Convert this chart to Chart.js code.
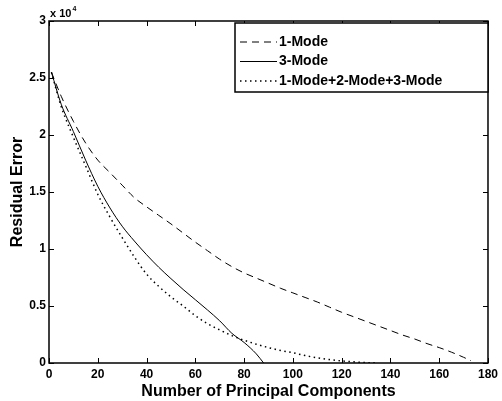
<!DOCTYPE html>
<html>
<head>
<meta charset="utf-8">
<script src="https://cdn.jsdelivr.net/npm/chart.js@4/dist/chart.umd.min.js"></script>
<style>
    body { margin: 0; background: #fff; }
    #chart { display: block; }
</style>
</head>
<body>
<canvas id="chart" width="502" height="401"></canvas>
<script>
// residual error in units of 10^4
const pcs1 = [1, 5, 10, 15, 20, 25, 30, 35, 40, 45, 50, 55, 60, 65, 70, 75, 80, 85, 90, 95, 100, 105, 110, 115, 120, 125, 130, 135, 140, 145, 150, 155, 160, 165, 170, 173];
const oneMode = [2.55, 2.34, 2.12, 1.93, 1.78, 1.67, 1.56, 1.45, 1.37, 1.295, 1.22, 1.14, 1.06, 0.985, 0.91, 0.845, 0.79, 0.745, 0.70, 0.655, 0.615, 0.575, 0.535, 0.49, 0.445, 0.405, 0.365, 0.325, 0.285, 0.245, 0.21, 0.17, 0.135, 0.095, 0.05, 0.02];

const pcs3 = [1, 5, 10, 15, 20, 25, 30, 35, 40, 45, 50, 55, 60, 65, 70, 75, 80, 85, 88];
const threeMode = [2.55, 2.27, 2.03, 1.78, 1.55, 1.36, 1.20, 1.07, 0.95, 0.84, 0.74, 0.645, 0.555, 0.465, 0.37, 0.26, 0.18, 0.08, 0.0];

const pcsAll = [1, 5, 10, 15, 20, 25, 30, 35, 40, 45, 50, 55, 60, 65, 70, 75, 80, 85, 90, 95, 100, 105, 110, 115, 120, 125, 130, 135];
const allModes = [2.55, 2.25, 1.98, 1.73, 1.48, 1.28, 1.10, 0.93, 0.78, 0.672, 0.58, 0.50, 0.415, 0.345, 0.29, 0.24, 0.20, 0.165, 0.135, 0.11, 0.09, 0.065, 0.045, 0.03, 0.018, 0.01, 0.004, 0];

const seriesNames = ["1-Mode", "3-Mode", "1-Mode+2-Mode+3-Mode"];

const FONT = "'Liberation Sans', Arial, sans-serif";

function toPoints(xs, ys) {
    return xs.map((x, i) => ({ x: x, y: ys[i] }));
}

// box + inward ticks, MATLAB style
const framePlugin = {
    id: "frame",
    afterDraw(chart) {
        const ctx = chart.ctx;
        const a = chart.chartArea;
        const xs = chart.scales.x;
        const ys = chart.scales.y;
        ctx.save();
        ctx.strokeStyle = "#000";
        ctx.lineWidth = 1.5;
        ctx.strokeRect(a.left, a.top, a.right - a.left, a.bottom - a.top);
        ctx.lineWidth = 1;
        ctx.beginPath();
        xs.ticks.forEach((t) => {
            const px = Math.round(xs.getPixelForValue(t.value)) + 0.5;
            ctx.moveTo(px, a.bottom);
            ctx.lineTo(px, a.bottom - 5);
            ctx.moveTo(px, a.top);
            ctx.lineTo(px, a.top + 5);
        });
        ys.ticks.forEach((t) => {
            const py = Math.round(ys.getPixelForValue(t.value)) + 0.5;
            ctx.moveTo(a.left, py);
            ctx.lineTo(a.left + 5, py);
            ctx.moveTo(a.right, py);
            ctx.lineTo(a.right - 5, py);
        });
        ctx.stroke();

        // exponent label
        ctx.fillStyle = "#000";
        ctx.font = "bold 11px " + FONT;
        ctx.textBaseline = "alphabetic";
        ctx.textAlign = "left";
        ctx.fillText("x 10", a.left + 1, a.top - 4);
        const w = ctx.measureText("x 10").width;
        ctx.font = "bold 7px " + FONT;
        ctx.fillText("4", a.left + 1 + w + 1, a.top - 10);
        ctx.restore();
    },
};

// legend box inside the plot
const legendBoxPlugin = {
    id: "legendBox",
    afterDraw(chart) {
        const ctx = chart.ctx;
        const left = 235, top = 23, right = 488, bottom = 92;
        ctx.save();
        ctx.fillStyle = "#fff";
        ctx.fillRect(left, top, right - left, bottom - top);
        ctx.strokeStyle = "#000";
        ctx.lineWidth = 1.5;
        ctx.strokeRect(left, top, right - left, bottom - top);
        ctx.font = "bold 14px " + FONT;
        ctx.textBaseline = "middle";
        ctx.fillStyle = "#000";
        chart.data.datasets.forEach((ds, i) => {
            const y = 42 + i * 19.5;
            ctx.beginPath();
            ctx.lineWidth = ds.borderWidth;
            ctx.setLineDash(ds.borderDash || []);
            ctx.moveTo(240, y);
            ctx.lineTo(277, y);
            ctx.stroke();
            ctx.setLineDash([]);
            ctx.fillText(ds.label, 279, y);
        });
        ctx.restore();
    },
};

new Chart(document.getElementById("chart"), {
    type: "line",
    data: {
        datasets: [
            {
                label: seriesNames[0],
                data: toPoints(pcs1, oneMode),
                borderColor: "#000",
                borderWidth: 1,
                borderDash: [7, 5],
            },
            {
                label: seriesNames[1],
                data: toPoints(pcs3, threeMode),
                borderColor: "#000",
                borderWidth: 1,
            },
            {
                label: seriesNames[2],
                data: toPoints(pcsAll, allModes),
                borderColor: "#000",
                borderWidth: 1.5,
                borderDash: [1.5, 3.5],
            },
        ],
    },
    options: {
        responsive: false,
        animation: false,
        layout: { padding: { top: 21, right: 9, left: 0, bottom: 0 } },
        elements: {
            point: { radius: 0 },
            line: { cubicInterpolationMode: "monotone" },
        },
        plugins: {
            legend: { display: false },
            tooltip: { enabled: false },
        },
        scales: {
            x: {
                type: "linear",
                min: 0,
                max: 180,
                grid: { display: false, drawTicks: false },
                border: { display: false },
                ticks: {
                    stepSize: 20,
                    color: "#000",
                    padding: 4,
                    font: { family: FONT, size: 12, weight: "bold" },
                },
                title: {
                    display: true,
                    text: "Number of Principal Components",
                    color: "#000",
                    padding: { top: 0, bottom: 0 },
                    font: { family: FONT, size: 16, weight: "bold" },
                },
                afterFit(scale) { scale.height = 38; },
            },
            y: {
                min: 0,
                max: 3,
                grid: { display: false, drawTicks: false },
                border: { display: false },
                ticks: {
                    stepSize: 0.5,
                    color: "#000",
                    padding: 3,
                    font: { family: FONT, size: 12, weight: "bold" },
                    callback: (v) => String(Math.round(v * 10) / 10),
                },
                title: {
                    display: true,
                    text: "Residual Error",
                    color: "#000",
                    padding: { top: 8, bottom: 0 },
                    font: { family: FONT, size: 16, weight: "bold" },
                },
                afterFit(scale) { scale.width = 49; },
            },
        },
    },
    plugins: [framePlugin, legendBoxPlugin],
});
</script>
</body>
</html>
